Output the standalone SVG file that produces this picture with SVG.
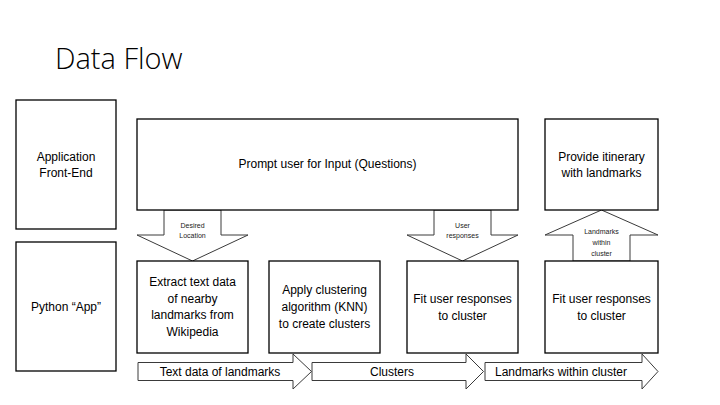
<svg xmlns="http://www.w3.org/2000/svg" width="720" height="405" viewBox="0 0 720 405">
<style>
.box{fill:#fff;stroke:#000;stroke-width:1.3}
.arr{fill:#fff;stroke:#3a3a3a;stroke-width:1}
text{font-family:"Liberation Sans",Arial,sans-serif;fill:#000;text-anchor:middle}
.t{font-size:12px}
.s{font-size:7px;fill:#222}
.title{font-family:"Open Sans","Liberation Sans",sans-serif;font-weight:300;font-size:29px;text-anchor:start}
</style>
<rect width="720" height="405" fill="#fff"/>
<text class="title" x="55" y="69">Data Flow</text>

<g id="connectors">
  <g id="arrow-desired-location">
    <polygon class="arr" points="164,210 221,210 221,235 248,235 192.5,261 137,235 164,235"/>
    <text class="s" x="192.5" y="228">Desired</text>
    <text class="s" x="192.5" y="238">Location</text>
  </g>
  <g id="arrow-user-responses">
    <polygon class="arr" points="434,210 491,210 491,235 518,235 462.5,261 407,235 434,235"/>
    <text class="s" x="462.5" y="228">User</text>
    <text class="s" x="462.5" y="238">responses</text>
  </g>
  <g id="arrow-landmarks-within-cluster-up">
    <polygon class="arr" points="573,261 630,261 630,235 658,235 601.5,210 545,235 573,235"/>
    <text class="s" x="601.5" y="234">Landmarks</text>
    <text class="s" x="601.5" y="245">within</text>
    <text class="s" x="601.5" y="256">cluster</text>
  </g>
  <g id="arrow-text-data">
    <polygon class="arr" points="138,362.5 293,362.5 293,354 311.5,371.5 293,389 293,380.5 138,380.5"/>
    <text class="t" x="220" y="376">Text data of landmarks</text>
  </g>
  <g id="arrow-clusters">
    <polygon class="arr" points="312,362.5 466,362.5 466,354 483.5,371.5 466,389 466,380.5 312,380.5"/>
    <text class="t" x="392" y="376">Clusters</text>
  </g>
  <g id="arrow-landmarks">
    <polygon class="arr" points="485,362.5 642,362.5 642,354 658,371.5 642,389 642,380.5 485,380.5"/>
    <text class="t" x="561" y="376">Landmarks within cluster</text>
  </g>
</g>

<g id="front-end">
  <rect class="box" x="16" y="100" width="100" height="129"/>
  <text class="t" x="66" y="161">Application</text>
  <text class="t" x="66" y="177">Front-End</text>
</g>
<g id="python-app">
  <rect class="box" x="16" y="242" width="100" height="129"/>
  <text class="t" x="66" y="311">Python “App”</text>
</g>
<g id="prompt">
  <rect class="box" x="137" y="119" width="381" height="91"/>
  <text class="t" x="327.5" y="168">Prompt user for Input (Questions)</text>
</g>
<g id="itinerary">
  <rect class="box" x="545" y="119" width="113" height="91"/>
  <text class="t" x="601.5" y="161">Provide itinerary</text>
  <text class="t" x="601.5" y="177">with landmarks</text>
</g>
<g id="extract">
  <rect class="box" x="137" y="261" width="111" height="92"/>
  <text class="t" x="192.5" y="286">Extract text data</text>
  <text class="t" x="192.5" y="303">of nearby</text>
  <text class="t" x="192.5" y="319">landmarks from</text>
  <text class="t" x="192.5" y="336">Wikipedia</text>
</g>
<g id="clustering">
  <rect class="box" x="269" y="261" width="111" height="92"/>
  <text class="t" x="324.5" y="294">Apply clustering</text>
  <text class="t" x="324.5" y="311">algorithm (KNN)</text>
  <text class="t" x="324.5" y="328">to create clusters</text>
</g>
<g id="fit1">
  <rect class="box" x="407" y="261" width="111" height="92"/>
  <text class="t" x="462.5" y="303">Fit user responses</text>
  <text class="t" x="462.5" y="320">to cluster</text>
</g>
<g id="fit2">
  <rect class="box" x="545" y="261" width="113" height="92"/>
  <text class="t" x="601.5" y="303">Fit user responses</text>
  <text class="t" x="601.5" y="320">to cluster</text>
</g>
</svg>
